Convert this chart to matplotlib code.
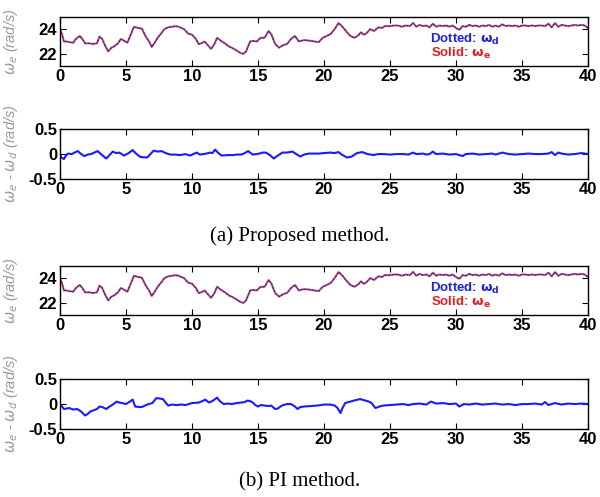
import numpy as np
import matplotlib
matplotlib.use("Agg")
from matplotlib import pyplot as plt

# omega_d / omega_e (rad/s), same reference for both methods
t_w = [0.0, 0.15, 0.3, 0.5, 0.7, 1.0, 1.2, 1.5, 1.7, 1.9, 2.2, 2.5, 2.8, 3.0, 3.2, 3.4, 3.65, 3.9, 4.1, 4.4,
       4.6, 4.8, 5.1, 5.3, 5.6, 5.9, 6.2, 6.5, 6.75, 6.95, 7.2, 7.4, 7.7, 7.9, 8.2, 8.5, 8.8, 9.1, 9.4, 9.7,
       10.0, 10.3, 10.5, 10.7, 10.95, 11.2, 11.45, 11.7, 11.9, 12.2, 12.5, 12.8, 13.1, 13.4, 13.7, 13.9, 14.1,
       14.4, 14.6, 14.9, 15.2, 15.5, 15.8, 16.0, 16.3, 16.6, 16.9, 17.2, 17.5, 17.8, 18.1, 18.4, 18.7, 19.0,
       19.3, 19.6, 19.9, 20.2, 20.5, 20.8, 21.1, 21.4, 21.7, 22.0, 22.3, 22.6, 22.8, 23.0, 23.2, 23.5, 23.8,
       24.1, 24.4, 24.6, 25.0, 25.3, 25.6, 25.9, 26.2, 26.5, 26.75, 27.0, 27.25, 27.5, 27.75, 28.0, 28.25,
       28.5, 28.75, 29.0, 29.25, 29.5, 29.75, 30.0, 30.25, 30.5, 30.75, 31.0, 31.25, 31.5, 31.75, 32.0, 32.25,
       32.5, 32.75, 33.0, 33.25, 33.5, 33.75, 34.0, 34.25, 34.5, 34.75, 35.0, 35.25, 35.5, 35.75, 36.0, 36.25,
       36.5, 36.75, 37.0, 37.25, 37.5, 37.75, 38.0, 38.25, 38.5, 38.75, 39.0, 39.25, 39.5, 39.75, 40.0]
w = [24.0, 23.6, 23.0, 23.0, 22.95, 22.9, 23.2, 23.45, 23.2, 22.85, 22.85, 22.8, 22.85, 23.4, 23.2, 22.7, 22.2,
     22.5, 22.6, 22.85, 23.2, 23.1, 22.9, 23.4, 24.2, 24.1, 24.05, 23.4, 23.0, 22.55, 22.95, 23.3, 23.7, 24.0,
     24.15, 24.2, 24.25, 24.15, 24.0, 23.65, 23.55, 23.2, 22.8, 22.85, 23.0, 22.7, 22.4, 22.8, 23.3, 23.05,
     22.85, 22.6, 22.45, 22.25, 22.05, 22.0, 22.2, 23.0, 23.05, 23.0, 23.3, 23.3, 23.85, 23.6, 22.8, 22.5,
     22.7, 22.8, 23.2, 23.45, 23.0, 23.1, 23.1, 23.05, 23.0, 22.95, 23.3, 23.45, 23.6, 24.0, 24.5, 24.2, 23.8,
     23.45, 23.3, 23.5, 23.75, 23.55, 23.65, 24.0, 23.85, 24.15, 24.1, 24.25, 24.25, 24.3, 24.3, 24.2, 24.3,
     24.25, 24.5, 24.2, 24.35, 24.25, 24.3, 24.15, 24.45, 24.2, 24.3, 24.25, 24.3, 24.2, 24.3, 24.1, 23.95,
     24.25, 24.2, 24.35, 24.25, 24.3, 24.2, 24.3, 24.25, 24.35, 24.2, 24.3, 24.2, 24.4, 24.25, 24.3, 24.25,
     24.3, 24.2, 24.3, 24.3, 24.25, 24.3, 24.25, 24.3, 24.3, 24.25, 24.45, 24.15, 24.5, 24.2, 24.35, 24.3,
     24.25, 24.3, 24.35, 24.3, 24.35, 24.3, 24.1]

# error proposed method
t_ea = [0.0, 0.1, 0.3, 0.45, 0.6, 0.9, 1.1, 1.35, 1.6, 1.85, 2.1, 2.35, 2.6, 2.85, 3.1, 3.5, 3.75, 4.0, 4.25,
        4.5, 4.85, 5.2, 5.5, 5.8, 6.1, 6.6, 6.85, 7.1, 7.4, 7.7, 8.0, 8.35, 8.7, 9.1, 9.5, 9.85, 10.1, 10.35,
        10.6, 10.85, 11.1, 11.35, 11.55, 11.75, 12.0, 12.25, 12.7, 13.1, 13.4, 13.75, 14.0, 14.25, 14.6, 14.85,
        15.1, 15.35, 15.6, 15.9, 16.2, 16.5, 16.85, 17.2, 17.6, 17.9, 18.2, 18.5, 18.85, 19.2, 19.6, 20.0, 20.5,
        20.8, 21.1, 21.4, 21.75, 22.1, 22.5, 22.9, 23.3, 23.75, 24.1, 24.5, 25.0, 25.5, 26.0, 26.4, 26.75, 27.0,
        27.5, 27.75, 28.0, 28.25, 28.5, 29.0, 29.5, 30.0, 30.5, 30.75, 31.25, 31.75, 32.25, 32.75, 33.0, 33.5,
        34.0, 34.5, 35.0, 35.5, 36.0, 36.5, 37.0, 37.25, 37.5, 37.75, 38.0, 38.5, 39.0, 39.5, 40.0]
ea = [-0.02, -0.07, -0.1, -0.03, 0.01, 0.0, 0.03, 0.06, 0.0, -0.04, -0.01, 0.0, 0.03, 0.06, 0.0, -0.09, -0.02,
      0.05, 0.02, 0.03, -0.03, 0.02, 0.08, 0.0, -0.06, -0.07, 0.0, 0.07, 0.05, 0.06, 0.02, -0.01, -0.01, -0.02,
      0.0, -0.03, 0.0, 0.03, -0.01, 0.0, 0.01, 0.03, 0.02, 0.09, 0.02, -0.03, -0.02, -0.02, -0.01, -0.01, 0.02,
      0.06, -0.01, 0.0, 0.01, 0.03, 0.03, -0.02, -0.09, -0.03, 0.03, 0.03, 0.05, 0.0, -0.05, -0.01, 0.01, 0.01,
      0.01, 0.02, 0.03, 0.02, 0.04, -0.02, -0.07, -0.05, 0.02, 0.04, 0.0, -0.02, 0.0, 0.0, -0.01, 0.0, 0.0,
      -0.01, 0.03, 0.0, 0.01, -0.01, 0.0, 0.05, 0.0, 0.01, -0.01, 0.0, -0.04, 0.0, 0.01, -0.01, 0.0, 0.01,
      -0.01, 0.03, 0.0, -0.01, 0.0, 0.01, 0.0, 0.0, 0.01, 0.04, -0.02, 0.03, 0.01, -0.01, 0.0, 0.02, 0.0]

# error PI method
t_eb = [0.0, 0.15, 0.3, 0.5, 0.7, 1.0, 1.3, 1.6, 1.9, 2.1, 2.3, 2.6, 2.8, 3.0, 3.2, 3.5, 3.75, 4.0, 4.3, 4.5,
        4.7, 5.0, 5.3, 5.5, 5.7, 6.0, 6.2, 6.6, 7.0, 7.3, 7.6, 7.8, 8.0, 8.2, 8.5, 8.8, 9.2, 9.5, 10.0, 10.5,
        10.8, 11.0, 11.3, 11.6, 11.9, 12.1, 12.4, 12.7, 13.0, 13.4, 13.7, 14.0, 14.2, 14.4, 14.6, 14.8, 15.0,
        15.2, 15.5, 15.8, 16.0, 16.3, 16.5, 16.7, 16.9, 17.2, 17.5, 17.8, 18.0, 18.2, 18.5, 19.0, 19.5, 20.0,
        20.5, 20.8, 21.0, 21.25, 21.4, 21.6, 22.0, 22.4, 22.75, 23.0, 23.4, 23.6, 23.9, 24.2, 24.5, 25.0, 25.5,
        26.0, 26.4, 26.75, 27.25, 27.75, 28.1, 28.5, 29.0, 29.5, 30.0, 30.25, 30.6, 31.0, 31.5, 32.0, 32.5,
        33.0, 33.5, 34.0, 34.5, 35.0, 35.5, 36.0, 36.5, 36.75, 37.0, 37.5, 38.0, 38.5, 39.0, 39.5, 40.0]
eb = [0.0, -0.05, -0.1, -0.09, -0.08, -0.11, -0.1, -0.15, -0.23, -0.2, -0.15, -0.12, -0.1, -0.05, -0.06, -0.1,
      -0.05, -0.01, 0.05, 0.03, 0.02, 0.0, 0.05, 0.09, -0.05, -0.06, -0.06, -0.01, 0.02, 0.12, 0.11, 0.1, 0.03,
      -0.03, -0.01, -0.02, -0.01, -0.02, 0.02, 0.03, 0.06, 0.09, 0.03, 0.07, 0.13, 0.06, 0.0, 0.01, 0.0, 0.02,
      0.03, 0.04, 0.07, 0.06, 0.03, -0.02, -0.05, -0.02, -0.03, -0.04, -0.03, -0.1, -0.09, -0.05, -0.02, 0.0,
      0.0, -0.05, -0.1, -0.06, -0.05, -0.04, -0.03, -0.01, -0.01, -0.03, -0.07, -0.18, -0.08, 0.02, 0.05, 0.08,
      0.1, 0.08, 0.05, 0.02, -0.08, -0.05, -0.03, -0.02, -0.01, 0.0, -0.02, 0.0, 0.01, -0.01, 0.05, 0.01, 0.02,
      0.0, 0.01, -0.05, 0.0, -0.01, 0.01, -0.01, 0.0, 0.01, -0.01, 0.0, -0.02, 0.0, 0.0, 0.01, -0.01, 0.04,
      -0.02, 0.02, -0.01, 0.01, 0.0, 0.01, 0.0]

xticks = [0, 5, 10, 15, 20, 25, 30, 35, 40]

plt.rcParams['font.family'] = ['Liberation Sans', 'DejaVu Sans']
plt.rcParams['mathtext.fontset'] = 'dejavusans'

fig = plt.figure(figsize=(6.0, 4.97), dpi=100)

# axes rects [left, bottom, width, height]
L, W = 0.1, 0.88
rects = [[L, 0.867, W, 0.099], [L, 0.640, W, 0.100],
         [L, 0.366, W, 0.099], [L, 0.137, W, 0.100]]
axs = [fig.add_axes(r) for r in rects]

def style(ax):
    ax.set_xlim(0, 40)
    ax.set_xticks(xticks)
    ax.tick_params(direction='in', top=True, right=True, length=4, width=0.8,
                   labelsize=12, pad=2)
    for lab in ax.get_xticklabels() + ax.get_yticklabels():
        lab.set_fontweight('bold')
    for s in ax.spines.values():
        s.set_linewidth(1.0)

def omega_panel(ax):
    ax.plot(t_w, w, color='#e0306a', lw=1.6, alpha=0.6)   # solid w_e
    ax.plot(t_w, w, color='#3a2a8a', lw=1.0, ls=':')       # dotted w_d
    ax.plot(t_w, w, color='#5a2a70', lw=0.7)
    ax.set_ylim(21, 25)
    ax.set_yticks([22, 24])
    style(ax)
    ax.set_ylabel(r'$\omega_e$ (rad/s)', color='#999999', fontsize=10.5, style='italic')
    ax.yaxis.set_label_coords(-0.075, 0.5)
    ax.text(28.0, 23.15, r'Dotted: $\mathbf{\omega_d}$', color='#2020e0', fontsize=9.5,
            fontweight='bold', va='center')
    ax.text(28.1, 22.0, r'Solid: $\mathbf{\omega_e}$', color='#e02020', fontsize=9.5,
            fontweight='bold', va='center')

def err_panel(ax, t, e):
    ax.plot(t, e, color='#1a1aff', lw=1.5)
    ax.set_ylim(-0.5, 0.5)
    ax.set_yticks([-0.5, 0, 0.5])
    ax.set_yticklabels(['-0.5', '0', '0.5'])
    style(ax)
    ax.set_ylabel(r'$\omega_e$ - $\omega_d$ (rad/s)', color='#999999', fontsize=10.5, style='italic')
    ax.yaxis.set_label_coords(-0.075, 0.5)

omega_panel(axs[0])
err_panel(axs[1], t_ea, ea)
omega_panel(axs[2])
err_panel(axs[3], t_eb, eb)

fig.text(0.5, 1 - 236 / 497, '(a) Proposed method.', ha='center', va='center',
         fontsize=15, family=['Liberation Serif', 'DejaVu Serif'])
fig.text(0.5, 1 - 482 / 497, '(b) PI method.', ha='center', va='center',
         fontsize=15, family=['Liberation Serif', 'DejaVu Serif'])

fig.savefig('out.png', dpi=100)
